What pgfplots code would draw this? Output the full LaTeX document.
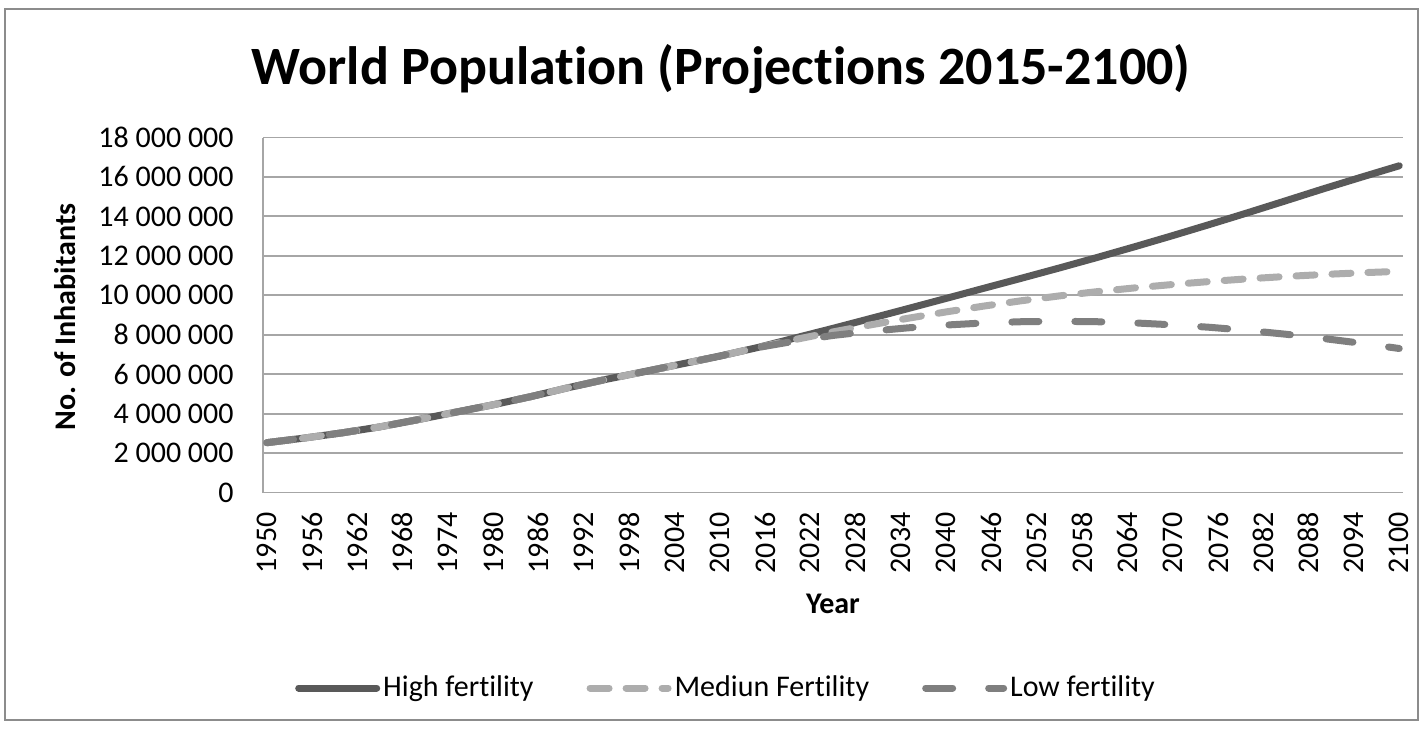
\documentclass[border=0pt]{standalone}
\usepackage{fontspec}
\setmainfont{Carlito}[Ligatures=NoCommon]
\usepackage{pgfplots}
\usepackage{pgfplotstable}
\pgfplotsset{compat=1.18}
\definecolor{hi}{HTML}{595959}
\definecolor{med}{HTML}{ADADAD}
\definecolor{lo}{HTML}{7F7F7F}
\definecolor{gridc}{HTML}{A6A6A6}
\definecolor{framec}{HTML}{8C8C8C}

\pgfplotstableread{
year high medium low
1950 2525779 2525779 2525779
1955 2761651 2761651 2761651
1960 3026003 3026003 3026003
1965 3329122 3329122 3329122
1970 3691173 3691173 3691173
1975 4071020 4071020 4071020
1980 4449049 4449049 4449049
1985 4863602 4863602 4863602
1990 5320817 5320817 5320817
1995 5741822 5741822 5741822
2000 6127700 6127700 6127700
2005 6520327 6520327 6520327
2010 6916183 6916183 6916183
2015 7349472 7349472 7349472
2020 7837000 7758157 7679000
2025 8324000 8141661 7964000
2030 8826000 8500766 8178000
2035 9332000 8838908 8351000
2040 9843000 9157234 8491000
2045 10357000 9453892 8597000
2050 10868000 9725148 8660000
2055 11387000 9968809 8680000
2060 11918000 10184290 8659000
2065 12465000 10375719 8598000
2070 13027000 10547989 8502000
2075 13604000 10701653 8374000
2080 14194000 10836635 8214000
2085 14796000 10953525 8024000
2090 15404000 11055270 7807000
2095 15990000 11142461 7566000
2100 16566000 11213317 7302000
}\popdata

\begin{document}
\begin{tikzpicture}
\useasboundingbox (-131.5pt,-117.75pt) rectangle (580pt,246.25pt);
\draw[framec, line width=1.2pt] (-129pt,-113.75pt) rectangle (577.5pt,241.75pt);
\begin{axis}[
  at={(0pt,0pt)}, anchor=south west,
  scale only axis, width=570pt, height=177.5pt,
  xmin=1949.5, xmax=2100.5, ymin=0, ymax=18000000,
  axis x line*=bottom, axis y line*=left,
  axis line style={gridc, line width=0.9pt},
  ymajorgrids, grid style={gridc, line width=0.9pt},
  major tick length=0pt,
  scaled y ticks=false,
  ytick={0,2000000,4000000,6000000,8000000,10000000,12000000,14000000,16000000,18000000},
  yticklabels={0,2 000 000,4 000 000,6 000 000,8 000 000,10 000 000,12 000 000,14 000 000,16 000 000,18 000 000},
  xtick={1950,1956,1962,1968,1974,1980,1986,1992,1998,2004,2010,2016,2022,2028,2034,2040,2046,2052,2058,2064,2070,2076,2082,2088,2094,2100},
  xticklabels={1950,1956,1962,1968,1974,1980,1986,1992,1998,2004,2010,2016,2022,2028,2034,2040,2046,2052,2058,2064,2070,2076,2082,2088,2094,2100},
  tick label style={font=\fontsize{15}{18}\selectfont},
  yticklabel style={anchor=east, inner sep=0pt},
  yticklabel shift=14.5pt,
  xticklabel style={rotate=90, anchor=east, inner sep=0pt},
  xticklabel shift=9.75pt,
  title={World Population (Projections 2015-2100)},
  title style={at={(axis description cs:0.4018,1)}, anchor=base, yshift=20.5pt, font=\bfseries\fontsize{27}{32}\selectfont},
  xlabel={Year},
  every axis x label/.style={at={(axis description cs:0.5,0)}, anchor=center, yshift=-55.75pt, font=\bfseries\fontsize{15}{18}\selectfont},
  ylabel={No. of Inhabitants},
  every axis y label/.style={at={(axis description cs:0,0.494)}, xshift=-99pt, rotate=90, anchor=center, font=\bfseries\fontsize{15}{18}\selectfont},
  legend columns=3,
  legend image code/.code={\draw[#1, line cap=round] (0pt,0pt) -- (39pt,0pt);},
  legend style={at={(axis description cs:0.4066,-0.5507)}, anchor=center, draw=none, fill=none,
    font=\fontsize{15}{18}\selectfont, inner sep=0pt,
    nodes={inner xsep=1.5pt, inner ysep=0pt},
    /tikz/every even column/.append style={column sep=25pt}},
  legend cell align=left,
]
\addplot[hi, line width=3.5pt, line cap=round, line join=round] table[x=year, y=high] {\popdata};
\addlegendentry{High fertility}
\addplot[med, line width=3.5pt, line cap=round, line join=round, dash pattern=on 9.5pt off 8.5pt] table[x=year, y=medium] {\popdata};
\addlegendentry{Mediun Fertility}
\addplot[lo, line width=3.5pt, line cap=round, line join=round, dash pattern=on 13.5pt off 18pt] table[x=year, y=low] {\popdata};
\addlegendentry{Low fertility}
\end{axis}
\end{tikzpicture}
\end{document}
